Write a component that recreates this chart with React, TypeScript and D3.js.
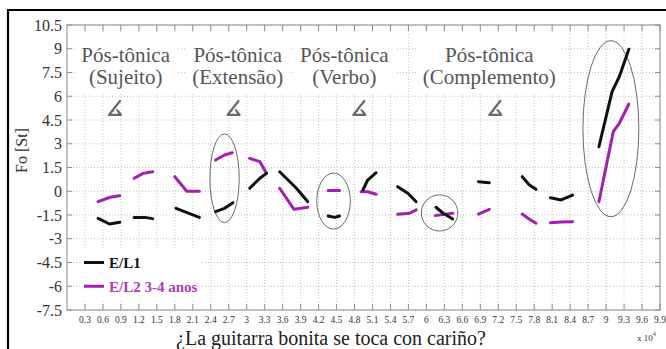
import { useEffect, useRef } from 'react'
import * as d3 from 'd3'

const W = 666
const H = 349
const SERIF = 'Liberation Serif, DejaVu Serif, serif'
const MAGENTA = '#a41fae'

// x in units of 10^4 samples, y in semitones
const xTicks = [0.3, 0.6, 0.9, 1.2, 1.5, 1.8, 2.1, 2.4, 2.7, 3, 3.3, 3.6, 3.9, 4.2, 4.5, 4.8, 5.1, 5.4, 5.7, 6, 6.3, 6.6, 6.9, 7.2, 7.5, 7.8, 8.1, 8.4, 8.7, 9, 9.3, 9.6, 9.9]
const yTicks = [-7.5, -6, -4.5, -3, -1.5, 0, 1.5, 3, 4.5, 6, 7.5, 9, 10.5]

// E/L1 contour, one array per syllable
const el1: [number, number][][] = [
  [[0.52, -1.71], [0.71, -2.07], [0.88, -1.96]],
  [[1.12, -1.65], [1.3, -1.65], [1.43, -1.73]],
  [[1.82, -1.08], [2.21, -1.65]],
  [[2.48, -1.29], [2.63, -1.08], [2.77, -0.72]],
  [[3.05, 0.19], [3.22, 0.82], [3.33, 1.13]],
  [[3.55, 1.23], [3.83, 0.19], [4.02, -0.66]],
  [[4.36, -1.56], [4.47, -1.65], [4.55, -1.56]],
  [[4.94, 0.08], [5.02, 0.71], [5.16, 1.17]],
  [[5.52, 0.29], [5.69, -0.13], [5.83, -0.66]],
  [[6.16, -1.01], [6.28, -1.39], [6.44, -1.75]],
  [[6.87, 0.6], [7.05, 0.54]],
  [[7.6, 0.92], [7.72, 0.39], [7.83, 0.12]],
  [[8.07, -0.41], [8.25, -0.55], [8.44, -0.24]],
  [[8.88, 2.81], [9.1, 6.29], [9.22, 7.23], [9.38, 8.97]],
]

// E/L2 3-4 anos contour
const el2: [number, number][][] = [
  [[0.52, -0.66], [0.72, -0.38], [0.88, -0.28]],
  [[1.12, 0.82], [1.27, 1.13], [1.43, 1.23]],
  [[1.8, 0.92], [2.0, 0], [2.21, 0]],
  [[2.48, 1.97], [2.63, 2.29], [2.76, 2.43]],
  [[3.05, 2.08], [3.22, 1.87], [3.33, 1.13]],
  [[3.55, 0.19], [3.79, -1.14], [4.02, -1.01]],
  [[4.36, 0.05], [4.55, 0.05]],
  [[4.91, -0.03], [5.02, -0.03], [5.16, -0.19]],
  [[5.52, -1.46], [5.72, -1.39], [5.83, -1.18]],
  [[6.15, -1.54], [6.3, -1.46], [6.44, -1.39]],
  [[6.87, -1.44], [7.05, -1.14]],
  [[7.6, -1.44], [7.72, -1.77], [7.83, -2.02]],
  [[8.07, -1.99], [8.25, -1.94], [8.44, -1.92]],
  [[8.88, -0.66], [9.12, 3.76], [9.22, 4.29], [9.38, 5.51]],
]

const sectionNames = ['(Sujeito)', '(Extensão)', '(Verbo)', '(Complemento)']
const sectionX = [0.98, 2.85, 4.63, 7.05]
const arrowX = [0.8, 2.78, 4.88, 7.15]
const arrowY = 5.26

const ellipses = [
  { cx: 2.63, cy: 0.82, rx: 0.245, ry: 2.8 },
  { cx: 4.45, cy: -0.62, rx: 0.28, ry: 1.77 },
  { cx: 6.22, cy: -1.37, rx: 0.305, ry: 1.14 },
  { cx: 9.08, cy: 3.95, rx: 0.467, ry: 5.56 },
]

export default function App() {
  const svgRef = useRef<SVGSVGElement>(null)

  useEffect(() => {
    const svg = d3.select(svgRef.current)
    svg.selectAll('*').remove()

    const m = { left: 67, right: 6, top: 25, bottom: 39 }
    const x = d3.scaleLinear().domain([0, 9.9]).range([m.left, W - m.right])
    const y = d3.scaleLinear().domain([-7.5, 10.5]).range([H - m.bottom, m.top])
    const x0 = m.left, x1 = W - m.right, y0 = H - m.bottom, y1 = m.top

    svg.append('rect').attr('width', W).attr('height', H).attr('fill', '#fff')

    // outer frame (top + left)
    svg.append('path').attr('d', `M8,${H} V10 H${W}`).attr('fill', 'none').attr('stroke', '#000').attr('stroke-width', 2.2)

    // grid
    const grid = svg.append('g').attr('stroke', '#b5b5b5').attr('stroke-width', 0.8).attr('stroke-dasharray', '1,2')
    xTicks.forEach((t) => {
      grid.append('line').attr('x1', x(t)).attr('x2', x(t)).attr('y1', y1).attr('y2', y0)
    })
    yTicks.forEach((t) => {
      grid.append('line').attr('x1', x0).attr('x2', x1).attr('y1', y(t)).attr('y2', y(t))
    })

    // tick marks on all four sides
    const ticks = svg.append('g').attr('stroke', '#777').attr('stroke-width', 0.8)
    xTicks.forEach((t) => {
      ticks.append('line').attr('x1', x(t)).attr('x2', x(t)).attr('y1', y1).attr('y2', y1 + 6)
      ticks.append('line').attr('x1', x(t)).attr('x2', x(t)).attr('y1', y0).attr('y2', y0 - 6)
    })
    yTicks.forEach((t) => {
      ticks.append('line').attr('x1', x0).attr('x2', x0 + 5).attr('y1', y(t)).attr('y2', y(t))
      ticks.append('line').attr('x1', x1).attr('x2', x1 - 5).attr('y1', y(t)).attr('y2', y(t))
    })

    svg.append('rect')
      .attr('x', x0).attr('y', y1).attr('width', x1 - x0).attr('height', y0 - y1)
      .attr('fill', 'none').attr('stroke', '#8a8a8a').attr('stroke-width', 1)

    const txt = (sel: d3.Selection<any, unknown, null, undefined>, size: number) =>
      sel.append('text').style('font-family', SERIF).style('font-size', `${size}px`)

    // tick labels
    yTicks.forEach((t) => {
      txt(svg, 16).attr('x', x0 - 5).attr('y', y(t)).attr('dy', '0.35em')
        .attr('text-anchor', 'end').attr('fill', '#333').text(t)
    })
    xTicks.forEach((t) => {
      txt(svg, 9.5).attr('x', x(t)).attr('y', y0 + 13)
        .attr('text-anchor', 'middle').attr('fill', '#333').text(t)
    })

    // section labels with white boxes
    sectionNames.forEach((name, i) => {
      const g = svg.append('g')
      const box = g.append('rect').attr('fill', '#fff')
      const cx = x(sectionX[i])
      txt(g, 21).attr('x', cx).attr('y', y1 + 37).attr('text-anchor', 'middle')
        .attr('fill', '#555').text('Pós-tônica')
      txt(g, 21).attr('x', cx).attr('y', y1 + 59).attr('text-anchor', 'middle')
        .attr('fill', '#555').text(name)
      const bb = (g.node() as SVGGElement).getBBox()
      box.attr('x', bb.x - 6).attr('y', y1 + 8).attr('width', bb.width + 12).attr('height', 60)
    })

    // little arrow marks
    arrowX.forEach((a) => {
      const ax = x(a), ay = y(arrowY)
      const g = svg.append('g').attr('transform', `translate(${ax},${ay})`)
      g.append('path').attr('d', 'M5,-7 L-6,7 L6,7 M6,7 L3,3')
        .attr('fill', 'none').attr('stroke', '#6a6a6a').attr('stroke-width', 2.2)
        .attr('stroke-linecap', 'round').attr('stroke-linejoin', 'round')
      ;[[0, -1], [-2, 3], [2, 2]].forEach(([dx, dy]) => {
        g.append('circle').attr('cx', dx).attr('cy', dy).attr('r', 0.9).attr('fill', '#6a6a6a')
      })
    })

    // ellipses
    ellipses.forEach((e) => {
      svg.append('ellipse')
        .attr('cx', x(e.cx)).attr('cy', y(e.cy))
        .attr('rx', x(e.cx + e.rx) - x(e.cx)).attr('ry', y(e.cy) - y(e.cy + e.ry))
        .attr('fill', 'none').attr('stroke', '#444').attr('stroke-width', 0.8)
    })

    // contours
    const line = d3.line<[number, number]>().x((d) => x(d[0])).y((d) => y(d[1]))
    const drawSeries = (segs: [number, number][][], color: string) => {
      segs.forEach((s) => {
        svg.append('path').attr('d', line(s)).attr('fill', 'none')
          .attr('stroke', color).attr('stroke-width', 3)
          .attr('stroke-linecap', 'round').attr('stroke-linejoin', 'round')
      })
    }
    drawSeries(el2, MAGENTA)
    drawSeries(el1, '#111')

    // legend
    svg.append('rect').attr('x', 80).attr('y', 250).attr('width', 122).attr('height', 50).attr('fill', '#fff')
    const legend = [
      { label: 'E/L1', color: '#111', text: '#111', v: -4.5 },
      { label: 'E/L2 3-4 anos', color: MAGENTA, text: '#ad3cb6', v: -6 },
    ]
    legend.forEach((l) => {
      svg.append('line').attr('x1', 84).attr('x2', 104).attr('y1', y(l.v)).attr('y2', y(l.v))
        .attr('stroke', l.color).attr('stroke-width', 3)
      txt(svg, 15).attr('x', 109).attr('y', y(l.v)).attr('dy', '0.35em')
        .style('font-weight', 'bold').attr('fill', l.text).text(l.label)
    })

    // axis titles
    txt(svg, 16)
      .attr('transform', `translate(27,${(y1 + y0) / 2 - 17}) rotate(-90)`)
      .attr('text-anchor', 'middle').attr('fill', '#333').text('Fo [St]')
    txt(svg, 20)
      .attr('x', 331).attr('y', 345).attr('text-anchor', 'middle')
      .attr('fill', '#222').text('¿La guitarra bonita se toca con cariño?')
    const ex = txt(svg, 9).attr('x', 637).attr('y', 341).attr('fill', '#333')
    ex.append('tspan').text('x 10')
    ex.append('tspan').attr('dy', -5).style('font-size', '6px').text('4')
  }, [])

  return (
    <svg
      ref={svgRef}
      width={W}
      height={H}
      style={{ position: 'fixed', left: 0, top: 0, display: 'block' }}
    />
  )
}
